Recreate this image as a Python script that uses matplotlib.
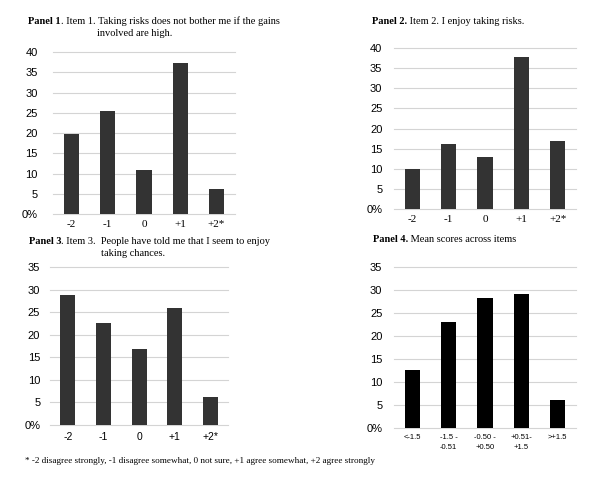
import matplotlib.pyplot as plt

# data (percent of respondents)
likert = ["-2", "-1", "0", "+1", "+2*"]
item1 = [19.8, 25.5, 10.9, 37.3, 6.2]
item2 = [10.0, 16.2, 12.9, 37.8, 17.0]
item3 = [28.8, 22.6, 16.9, 26.0, 6.3]
mean_bins = ["<-1.5", "-1.5 -\n-0.51", "-0.50 -\n+0.50", "+0.51-\n+1.5", ">+1.5"]
mean_scores = [12.7, 23.1, 28.2, 29.1, 6.1]

ticks40 = [0, 5, 10, 15, 20, 25, 30, 35, 40]
ticks35 = [0, 5, 10, 15, 20, 25, 30, 35]

serif = "Liberation Serif"
sans = "Liberation Sans"

fig = plt.figure(figsize=(6, 4.8), dpi=100)


def panel(rect, cats, vals, yticks, color, xfont, xsize, ypad, xpad):
    ax = fig.add_axes(rect)
    x = range(len(cats))
    ax.bar(x, vals, width=0.42, color=color, zorder=3)
    ax.set_xlim(-0.5, len(cats) - 0.5)
    ax.set_ylim(0, yticks[-1])
    ax.set_yticks(yticks)
    ax.set_yticklabels(["0%"] + [str(t) for t in yticks[1:]], family=sans, fontsize=8)
    ax.set_xticks(list(x))
    ax.set_xticklabels(cats, family=xfont, fontsize=xsize, linespacing=1.6)
    ax.grid(axis="y", color="#d4d4d4", linewidth=0.8, zorder=0)
    for ln in ax.get_ygridlines():
        ln.set_clip_on(False)
    for s in ax.spines.values():
        s.set_visible(False)
    ax.tick_params(length=0)
    ax.tick_params(axis="y", pad=ypad)
    ax.tick_params(axis="x", pad=xpad)
    return ax


panel([0.0883, 0.554, 0.303, 0.3375], likert, item1, ticks40, "#333333", serif, 8, 11, 4)
panel([0.657, 0.5646, 0.303, 0.335], likert, item2, ticks40, "#333333", serif, 8, 8.5, 4)
panel([0.0833, 0.1146, 0.297, 0.329], likert, item3, ticks35, "#333333", sans, 7.5, 7, 5)
panel([0.657, 0.1083, 0.303, 0.335], mean_bins, mean_scores, ticks35, "black", sans, 5.5, 8.5, 4)


def title(x, y, bold, rest, x2=None, line2=None):
    t = fig.text(x / 600, 1 - y / 480, bold, family=serif, fontsize=7.5,
                 fontweight="bold", va="center")
    fig.canvas.draw()
    bb = t.get_window_extent()
    fig.text(bb.x1 / 600, 1 - y / 480, rest, family=serif, fontsize=7.5, va="center")
    if line2:
        fig.text(x2 / 600, 1 - (y + 12) / 480, line2, family=serif, fontsize=7.5, va="center")


title(28, 21, "Panel 1", ". Item 1. Taking risks does not bother me if the gains",
      97, "involved are high.")
title(372, 22, "Panel 2.", " Item 2. I enjoy taking risks.")
title(29, 241, "Panel 3", ". Item 3.  People have told me that I seem to enjoy",
      101, "taking chances.")
title(373, 240, "Panel 4.", " Mean scores across items")

fig.text(25 / 600, 1 - 461 / 480,
         "* -2 disagree strongly, -1 disagree somewhat, 0 not sure, +1 agree somewhat, +2 agree strongly",
         family=serif, fontsize=6.6, va="center")

fig.savefig("out.png", dpi=100, facecolor="white")
